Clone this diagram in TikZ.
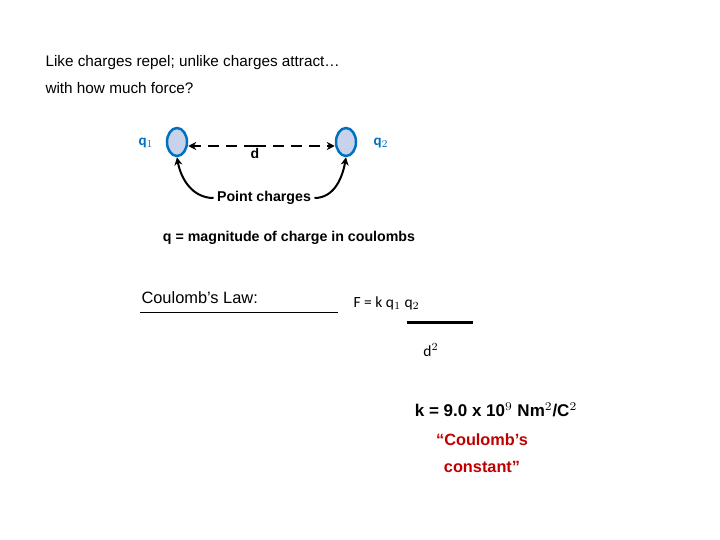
\documentclass[tikz,border=0pt]{standalone}
\usepackage{fontspec}
\setmainfont{Liberation Sans}
\newfontfamily\carlitofont{Carlito}
\usetikzlibrary{arrows.meta,shapes.geometric}
\definecolor{qblue}{RGB}{0,112,192}
\definecolor{cfill}{RGB}{200,210,235}
\definecolor{cred}{RGB}{192,0,0}
\newcommand\mysz[2]{\scalebox{#1}{#2}}
\tikzset{charge/.style={ellipse,draw=qblue,line width=2.5pt,fill=cfill,minimum width=20pt,minimum height=28pt,inner sep=0pt},
qlab/.style={text=qblue,font=\carlitofont\bfseries},
pt/.style={-{Stealth[length=8pt,width=8pt]},line width=2pt}}
\begin{document}
\begin{tikzpicture}[x=1pt,y=-1pt]
\useasboundingbox (0,0) rectangle (720,540);
\node[anchor=west] (t1) at (42,63) {\mysz{1.53}{Like charges repel; unlike charges attract…}};
\node[anchor=west] (t2) at (42,88) {\mysz{1.53}{with how much force?}};
\node[charge] (c1) at (177,142) {};
\node[charge] (c2) at (346,142) {};
\node[qlab] (q1) at (146,143) {\mysz{1.5}{q$_1$}};
\node[qlab] (q2) at (381,143) {\mysz{1.5}{q$_2$}};
\coordinate (m) at (255,146);
\draw[pt,dashed,dash pattern=on 11pt off 7pt] (m) -- (c1.east |- m);
\draw[pt,dashed,dash pattern=on 11pt off 7pt] (m) -- (c2.west |- m);
\node[font=\bfseries] (d) at (255,153) {\mysz{1.4}{d}};
\node[font=\bfseries] (pc) at (264,198) {\mysz{1.42}{Point charges}};
\draw[pt] (pc.west) to[out=180,in=-80] (c1.south);
\draw[pt] (pc.east) to[out=0,in=-100] (c2.south);
\node[font=\bfseries] (qd) at (289,238) {\mysz{1.42}{q = magnitude of charge in coulombs}};
\node[anchor=west] (cl) at (138,298) {\mysz{1.64}{Coulomb’s Law:}};
\draw[line width=1pt] (140,312) -- (338,312);
\node[font=\carlitofont,anchor=west] (f) at (350,303) {\mysz{1.55}{F = k q$_1$ q$_2$}};
\draw[line width=3pt] (407,322) -- (473,322);
\node[font=\carlitofont] (d2) at (431,350) {\mysz{1.55}{d$^2$}};
\node[font=\bfseries] (k) at (496,410) {\mysz{1.7}{k = 9.0 x 10$^9$ Nm$^2$/C$^2$}};
\node[font=\bfseries,text=cred] (cc1) at (482,440) {\mysz{1.63}{“Coulomb’s}};
\node[font=\bfseries,text=cred] (cc2) at (482,467) {\mysz{1.63}{constant”}};
\end{tikzpicture}
\end{document}
